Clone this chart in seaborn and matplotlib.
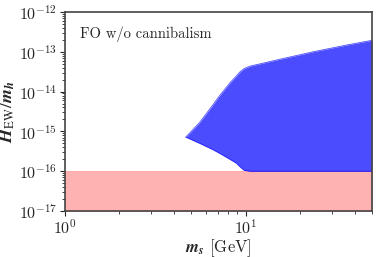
import numpy as np
import pandas as pd
import seaborn as sns
import matplotlib.pyplot as plt

# region boundaries (log-log)
m_s = [4.66, 5.57, 6.57, 7.18, 8.16, 8.89, 9.27, 9.8, 10.6, 12.0, 15.4, 23.5, 36.0, 50.0]
h_upper = [7.2e-16, 1.7e-15, 4.6e-15, 8.0e-15, 1.64e-14, 2.5e-14, 3.1e-14,
           3.8e-14, 4.4e-14, 5.0e-14, 6.5e-14, 1.0e-13, 1.48e-13, 1.95e-13]
h_lower = [7.2e-16, 5.0e-16, 3.5e-16, 2.8e-16, 2.0e-16, 1.58e-16, 1.3e-16,
           1.05e-16, 1.0e-16, 1.0e-16, 1.0e-16, 1.0e-16, 1.0e-16, 1.0e-16]

band_x = [1.0, 50.0]
band_lo = [1e-17, 1e-17]
band_hi = [1e-16, 1e-16]

df = pd.DataFrame({"m_s": m_s, "upper": h_upper, "lower": h_lower})

sns.set_style("ticks")
plt.rcParams["font.family"] = ["cmr10", "DejaVu Serif"]
plt.rcParams["mathtext.fontset"] = "cm"
plt.rcParams["axes.unicode_minus"] = False
plt.rcParams["axes.formatter.use_mathtext"] = True

fig = plt.figure(figsize=(3.82, 2.57), dpi=100)
ax = fig.add_axes([0.170, 0.179, 0.804, 0.774])

ax.fill_between(band_x, band_lo, band_hi, color="red", alpha=0.3, lw=0.5)
ax.fill_between(df["m_s"], df["lower"], df["upper"], color="blue", alpha=0.7, lw=0)
sns.lineplot(data=df, x="m_s", y="upper", ax=ax, color="blue", alpha=0.7, lw=0.6)
sns.lineplot(data=df, x="m_s", y="lower", ax=ax, color="blue", alpha=0.7, lw=0.6)

ax.set_xscale("log")
ax.set_yscale("log")
ax.set_xlim(1, 50)
ax.set_ylim(1e-17, 1e-12)
ax.set_xlabel(r"$\mathbfit{m_s}$ [GeV]", fontsize=12, labelpad=0,
              math_fontfamily="stix")
ax.set_ylabel(r"$\mathbfit{H}_{\mathrm{EW}}/\mathbfit{m_h}$", fontsize=13,
              labelpad=1, math_fontfamily="stix")
ax.tick_params(labelsize=11.5, pad=2)
ax.text(0.05, 0.93, "FO w/o cannibalism", transform=ax.transAxes,
        fontsize=10.5, va="top", ha="left")

for s in ax.spines.values():
    s.set_linewidth(1.2)
    s.set_color("#444444")

fig.savefig("out.png", dpi=100)
